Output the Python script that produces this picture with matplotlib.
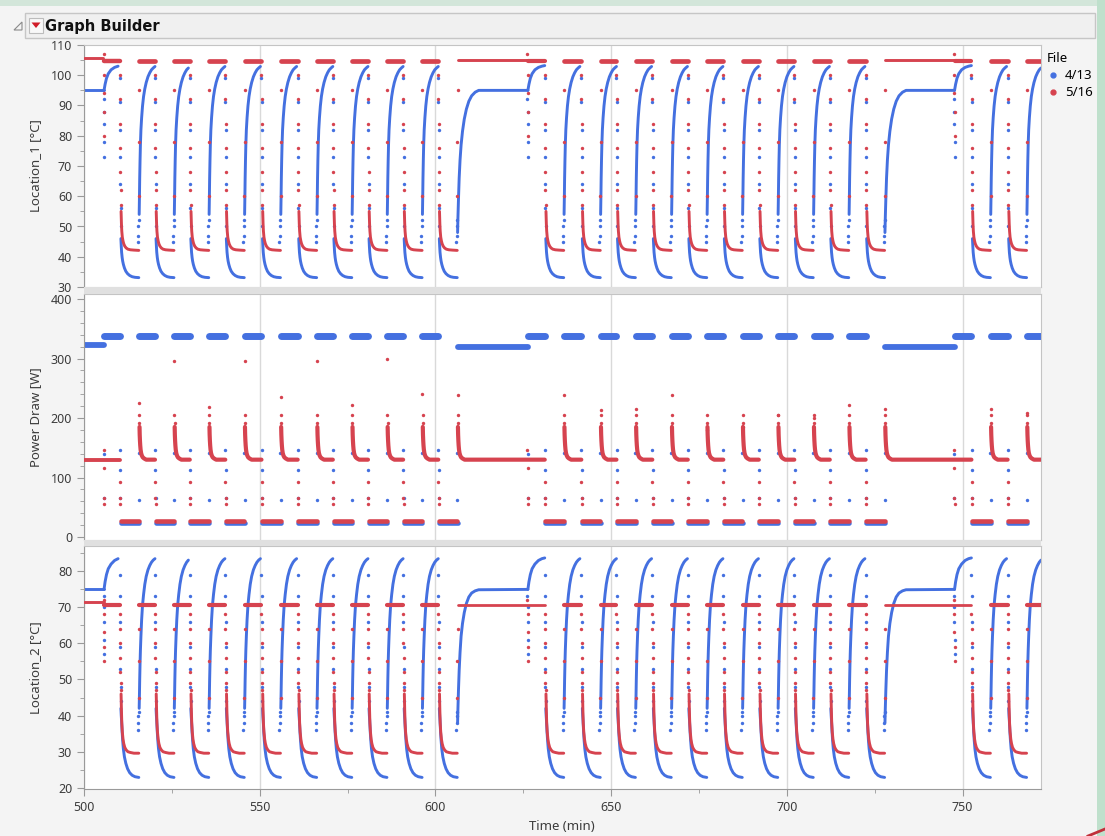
import numpy as np
import matplotlib.pyplot as plt
import matplotlib.ticker as ticker
from matplotlib.patches import Rectangle, Polygon
from matplotlib.lines import Line2D

plt.rcParams['font.family'] = ['Noto Sans', 'DejaVu Sans']

BLUE = '#4470e0'
RED = '#d6434f'

# ---- event times (min) ----
drop_times = [510.2, 520.2, 530.1, 540.2, 550.5, 560.8, 570.8, 580.8, 590.8, 600.8,
              631.1, 641.5, 651.5, 661.7, 671.8, 681.9, 692.0, 702.1, 712.2, 722.4,
              752.5, 762.8]
hold_ends = [505.7, 626.3, 747.7]
t_end = 772.3
cool_len = 5.5
# red power spike at the start of each heating (W)
spike_peaks = [225, 295, 218, 296, 235, 295, 222, 300, 240, 238,
               238, 213, 215, 238, 180, 185, 205, 200, 222, 215,
               215, 208]

# ---- plateau levels ----
b1_hold, r1_hold, r1_init, r1_top = 95.0, 105.2, 105.8, 104.6
b2_hold, r2_hold, r2_init, r2_top = 74.9, 70.5, 71.4, 70.7
bp_init, bp_hold, bp_heat, bp_cool = 322, 320, 338, 24
rp_heat, rp_cool = 130, 27

# ---- shapes of one cycle (minutes after the event, value) ----
drop_dt = [0.0, 0.04, 0.08, 0.12, 0.16, 0.2, 0.24]
b1_drop = [99, 91, 82, 73, 64, 56, 50]
r1_drop = [100, 92, 84, 76, 68, 62, 57]
b2_drop = [79, 73, 66, 59, 53, 48, 44]
r2_drop = [68, 64, 60, 56, 52, 49, 47]

b_cool_dt = [0.3, 0.4, 0.5, 0.65, 0.8, 1.0, 1.3, 1.7, 2.2, 2.8, 3.5, 4.3, 5.4]
b1_cool = [46, 43.5, 41.5, 39.8, 38.6, 37.5, 36.3, 35.2, 34.4, 33.8, 33.4, 33.2, 33.1]
b2_cool = [42, 40, 38.5, 35.5, 33.2, 30.8, 28.6, 26.8, 25.3, 24.2, 23.5, 23.1, 22.9]

r_cool_dt = [0.35, 0.45, 0.55, 0.7, 0.9, 1.1, 1.4, 1.8, 2.3, 3.0, 4.0, 5.4]
r1_cool = [55, 51, 48.5, 46.5, 45.2, 44.3, 43.5, 42.9, 42.5, 42.3, 42.2, 42.1]
r2_cool = [46, 41.5, 38, 35.5, 33.5, 32.3, 31.2, 30.5, 30.0, 29.8, 29.6, 29.6]

pre_dt = [-0.4, -0.3, -0.2, -0.1]
b1_pre = [45, 47, 50, 52]
b2_pre = [36, 38, 40, 41]
jump_dt = [-0.06, -0.03, 0.0]
r1_jump = [60, 78, 95]
r2_jump = [45, 55, 64]

rise_dt = [0.0, 0.08, 0.15, 0.25, 0.35, 0.5, 0.7, 0.95, 1.25, 1.6, 2.0, 2.5, 3.0, 3.5, 4.0, 4.5, 5.0]
b1_rise = [54, 60, 66, 72, 77, 82, 86, 89.8, 93, 95.5, 97.6, 99.5, 100.8, 101.8, 102.4, 102.9, 103.1]
b2_rise = [42, 46, 50, 54.5, 58, 62, 66.5, 70.5, 73.5, 76.3, 78.5, 80.3, 81.5, 82.4, 83.0, 83.4, 83.6]

hrise_dt = [0.0, 0.1, 0.25, 0.45, 0.7, 1.0, 1.4, 1.9, 2.5, 3.2, 4.0, 5.0, 6.0]
b1_hrise = [48, 53, 59, 66, 72, 77, 81.5, 85.5, 88.8, 91.4, 93.2, 94.4, 95.0]
b2_hrise = [38, 42, 47, 52.5, 57.5, 62, 65.5, 68.5, 71, 72.8, 73.9, 74.5, 74.8]

top_dt = [0.0, 0.3, 0.7, 1.2, 2.0, 3.0, 4.0, 4.8]
b1_top = [95.0, 97.0, 99.0, 100.5, 101.8, 102.6, 103.0, 103.2]
b2_top = [74.9, 77.0, 79.0, 80.6, 81.9, 82.9, 83.4, 83.6]

hend_dt = [-0.15, -0.1, -0.05, 0.0, 0.05]
b1_hend = [92, 88, 84, 78, 73]
r1_hend = [107, 100, 94, 88, 80]
b2_hend = [73, 70, 66, 61, 57]
r2_hend = [72, 68, 63, 59, 55]

pw_drop_dt = [0.03, 0.08, 0.15]
bp_drop = [146, 112, 66]
rp_drop = [92, 65, 56]
bp_pre_dt = [-0.1, -0.03]
bp_pre = [141, 62]
spike_dt = [0.03, 0.06]
spike_col = [205, 192]
tail_dt = [0.1, 0.15, 0.22, 0.3, 0.4, 0.55, 0.75, 1.0, 1.4, 2.0]
rp_tail = [185, 172, 162, 154, 147, 141, 137, 134, 132, 130]
rp_hend = [147, 116, 66, 56]
bp_hend = [140, 66]

LW = 2.1

# ---- build the marks ----
panels = ['L1', 'P', 'L2']
lines = {(p, s): [] for p in panels for s in 'br'}
dots = {(p, s): ([], []) for p in panels for s in 'br'}


def shifted(t0, dts, vals, t_stop=None):
    xs, ys = [], []
    for dt, v in zip(dts, vals):
        if t_stop is None or t0 + dt <= t_stop:
            xs.append(t0 + dt)
            ys.append(v)
    return xs, ys


def add_line(p, s, xs, ys, lw):
    lines[(p, s)].append((list(xs), list(ys), lw))


def add_flat(p, s, t0, t1, v, lw):
    add_line(p, s, [t0, t1], [v, v], lw)


def add_dots(p, s, t0, dts, vals):
    xs, ys = shifted(t0, dts, vals)
    dots[(p, s)][0].extend(xs)
    dots[(p, s)][1].extend(ys)


def hold_end_marks(e):
    add_dots('L1', 'b', e, hend_dt, b1_hend)
    add_dots('L1', 'r', e, hend_dt, r1_hend)
    add_dots('L2', 'b', e, hend_dt, b2_hend)
    add_dots('L2', 'r', e, hend_dt, r2_hend)
    add_dots('P', 'r', e, hend_dt[:4], rp_hend)
    add_dots('P', 'b', e, hend_dt[1:3], bp_hend)


# start of the record: unit holding
e0, n0 = hold_ends[0], drop_times[0]
add_flat('L1', 'b', 500, e0, b1_hold, LW)
add_line('L1', 'b', *shifted(e0, top_dt, b1_top, n0), LW)
add_flat('L1', 'r', 500, e0 - 0.2, r1_init, LW)
add_flat('L1', 'r', e0, n0, r1_top, 3.2)
add_flat('L2', 'b', 500, e0, b2_hold, LW)
add_line('L2', 'b', *shifted(e0, top_dt, b2_top, n0), LW)
add_flat('L2', 'r', 500, e0, r2_init, LW)
add_flat('L2', 'r', e0, n0, r2_top, 3.0)
add_flat('P', 'b', 500, e0, bp_init, 4.2)
add_flat('P', 'b', e0, n0, bp_heat, 5.0)
add_flat('P', 'r', 500, n0, rp_heat, 2.8)
hold_end_marks(e0)

for i, d in enumerate(drop_times):
    h = d + cool_len
    n = drop_times[i + 1] if i + 1 < len(drop_times) else t_end

    # cooling
    add_dots('L1', 'b', d, drop_dt, b1_drop)
    add_dots('L1', 'r', d, drop_dt, r1_drop)
    add_dots('L2', 'b', d, drop_dt, b2_drop)
    add_dots('L2', 'r', d, drop_dt, r2_drop)
    add_dots('P', 'b', d, pw_drop_dt, bp_drop)
    add_dots('P', 'r', d, pw_drop_dt, rp_drop)
    add_line('L1', 'b', *shifted(d, b_cool_dt, b1_cool, h), LW)
    add_line('L1', 'r', *shifted(d, r_cool_dt, r1_cool, h), LW)
    add_line('L2', 'b', *shifted(d, b_cool_dt, b2_cool, h), LW)
    add_line('L2', 'r', *shifted(d, r_cool_dt, r2_cool, h), LW)
    add_flat('P', 'b', d + 0.2, h, bp_cool, 3.3)
    add_flat('P', 'r', d + 0.2, h - 0.05, rp_cool, 3.3)

    # heating
    add_dots('L1', 'b', h, pre_dt, b1_pre)
    add_dots('L2', 'b', h, pre_dt, b2_pre)
    add_dots('L1', 'r', h, jump_dt, r1_jump)
    add_dots('L2', 'r', h, jump_dt, r2_jump)
    add_dots('P', 'b', h, bp_pre_dt, bp_pre)
    add_dots('P', 'r', h, [0.0], [spike_peaks[i]])
    add_dots('P', 'r', h, spike_dt, spike_col)
    tx, ty = shifted(h, tail_dt, rp_tail, n)
    add_line('P', 'r', tx + [n], ty + [rp_heat], 3.0)

    holds = [e for e in hold_ends if h < e < n]
    if holds:
        e = holds[0]
        x, y = shifted(h, hrise_dt, b1_hrise, e)
        add_line('L1', 'b', x + [e], y + [b1_hold], LW)
        add_line('L1', 'b', *shifted(e, top_dt, b1_top, n), LW)
        x, y = shifted(h, hrise_dt, b2_hrise, e)
        add_line('L2', 'b', x + [e], y + [b2_hold], LW)
        add_line('L2', 'b', *shifted(e, top_dt, b2_top, n), LW)
        add_flat('L1', 'r', h, e, r1_hold, LW)
        add_flat('L1', 'r', e, n, r1_top, 3.0)
        add_flat('L2', 'r', h, n, r2_hold, 2.0)
        add_flat('P', 'b', h, e, bp_hold, 4.2)
        add_flat('P', 'b', e, n, bp_heat, 5.0)
        hold_end_marks(e)
    else:
        add_line('L1', 'b', *shifted(h, rise_dt, b1_rise, n), LW)
        add_line('L2', 'b', *shifted(h, rise_dt, b2_rise, n), LW)
        add_flat('L1', 'r', h, n, r1_top, 3.4)
        add_flat('L2', 'r', h, n, r2_top, 3.0)
        add_flat('P', 'b', h, n, bp_heat, 5.0)


# ---- figure ----
W, H = 1105, 836
fig = plt.figure(figsize=(W / 100, H / 100), dpi=100, facecolor='#f4f4f4')


def fx(px):
    return px / W


def fy(py):
    return 1 - py / H


def add_axes(top, bottom):
    return fig.add_axes([fx(84), fy(bottom), (1041 - 84) / W, (bottom - top) / H])


ax1 = add_axes(45, 287)
ax2 = add_axes(294, 540)
ax3 = add_axes(546, 789)
axes = {'L1': ax1, 'P': ax2, 'L2': ax3}

# grey separators between the panels
for top, bot in [(287, 294), (540, 546)]:
    fig.patches.append(Rectangle((fx(84), fy(bot)), (1041 - 84) / W, (bot - top) / H,
                                 transform=fig.transFigure, fc='#e0e0e0', ec='none'))

for p, ax in axes.items():
    for s, col, z in [('b', BLUE, 2), ('r', RED, 3)]:
        for xs, ys, lw in lines[(p, s)]:
            ax.plot(xs, ys, '-', color=col, lw=lw, solid_capstyle='round', zorder=z)
        ax.scatter(dots[(p, s)][0], dots[(p, s)][1], s=6, color=col, lw=0, zorder=z)
    ax.set_xlim(500, t_end)
    ax.set_facecolor('white')
    ax.set_axisbelow(True)
    ax.xaxis.set_major_locator(ticker.MultipleLocator(50))
    ax.xaxis.set_minor_locator(ticker.MultipleLocator(25))
    ax.grid(True, axis='x', which='major', color='#d9d9d9', lw=1)
    for side in ['top', 'right', 'bottom']:
        ax.spines[side].set_color('#c4c4c4')
    ax.spines['left'].set_color('#9a9a9a')
    ax.tick_params(which='major', direction='out', length=5, color='#999999',
                   labelcolor='#3c3c3c', labelsize=9)
    ax.tick_params(which='minor', direction='out', length=3, color='#999999')

ax1.set_ylim(30, 110)
ax1.yaxis.set_major_locator(ticker.MultipleLocator(10))
ax1.yaxis.set_minor_locator(ticker.MultipleLocator(5))
ax2.set_ylim(-5, 408.4)
ax2.yaxis.set_major_locator(ticker.MultipleLocator(100))
ax2.yaxis.set_minor_locator(ticker.MultipleLocator(20))
ax3.set_ylim(19.7, 86.9)
ax3.yaxis.set_major_locator(ticker.MultipleLocator(10))
ax3.yaxis.set_minor_locator(ticker.MultipleLocator(5))
for ax in [ax1, ax2]:
    ax.tick_params(axis='x', which='both', bottom=False, labelbottom=False)
ax3.spines['bottom'].set_color('#9a9a9a')

for ax, lab in [(ax1, 'Location_1 [°C]'), (ax2, 'Power Draw [W]'), (ax3, 'Location_2 [°C]')]:
    ax.set_ylabel(lab, fontsize=9.5, color='#3c3c3c')
    ax.yaxis.set_label_coords(-0.044, 0.5)
fig.text(fx(562), fy(826), 'Time (min)', ha='center', va='center', fontsize=9.5, color='#3c3c3c')

# legend
handles = [Line2D([], [], ls='none', marker='o', ms=3.5, color=BLUE, label='4/13'),
           Line2D([], [], ls='none', marker='o', ms=3.5, color=RED, label='5/16')]
fig.legend(handles=handles, title='File', loc='upper left', bbox_to_anchor=(fx(1041), fy(47)),
           frameon=False, fontsize=9.5, title_fontsize=9.5, alignment='left',
           handlelength=1.0, handletextpad=0.4, borderaxespad=0, labelspacing=0.3)

# header bar
fig.patches.append(Rectangle((fx(25), fy(38)), (1095 - 25) / W, 25 / H, transform=fig.transFigure,
                             fc='#f0f0f0', ec='#c6c6c6', lw=1))
fig.patches.append(Rectangle((fx(29), fy(33)), 14 / W, 15 / H, transform=fig.transFigure,
                             fc='#f8f8f8', ec='#bcbcbc', lw=0.8))
fig.patches.append(Polygon([(fx(31.5), fy(22.5)), (fx(40.5), fy(22.5)), (fx(36), fy(28))],
                           closed=True, transform=fig.transFigure, fc='#d01c28', ec='none'))
fig.patches.append(Polygon([(fx(14), fy(30)), (fx(22), fy(30)), (fx(22), fy(22))],
                           closed=True, transform=fig.transFigure, fc='none', ec='#8a8a8a', lw=0.8))
fig.text(fx(45), fy(26), 'Graph Builder', fontsize=10.5, fontweight='bold', va='center',
         color='#111111', family=['DejaVu Sans'])

# window frame tint
fig.patches.append(Rectangle((0, fy(6)), 1, 6 / H, transform=fig.transFigure, fc='#d3e6da', ec='none'))
fig.patches.append(Rectangle((fx(1097), 0), 8 / W, 1, transform=fig.transFigure, fc='#bfe0cc', ec='none'))
fig.lines.append(Line2D([fx(1088), fx(1105)], [fy(836), fy(829)], transform=fig.transFigure,
                        color='#c0303a', lw=2))

fig.savefig('out.png', dpi=100, facecolor=fig.get_facecolor())
